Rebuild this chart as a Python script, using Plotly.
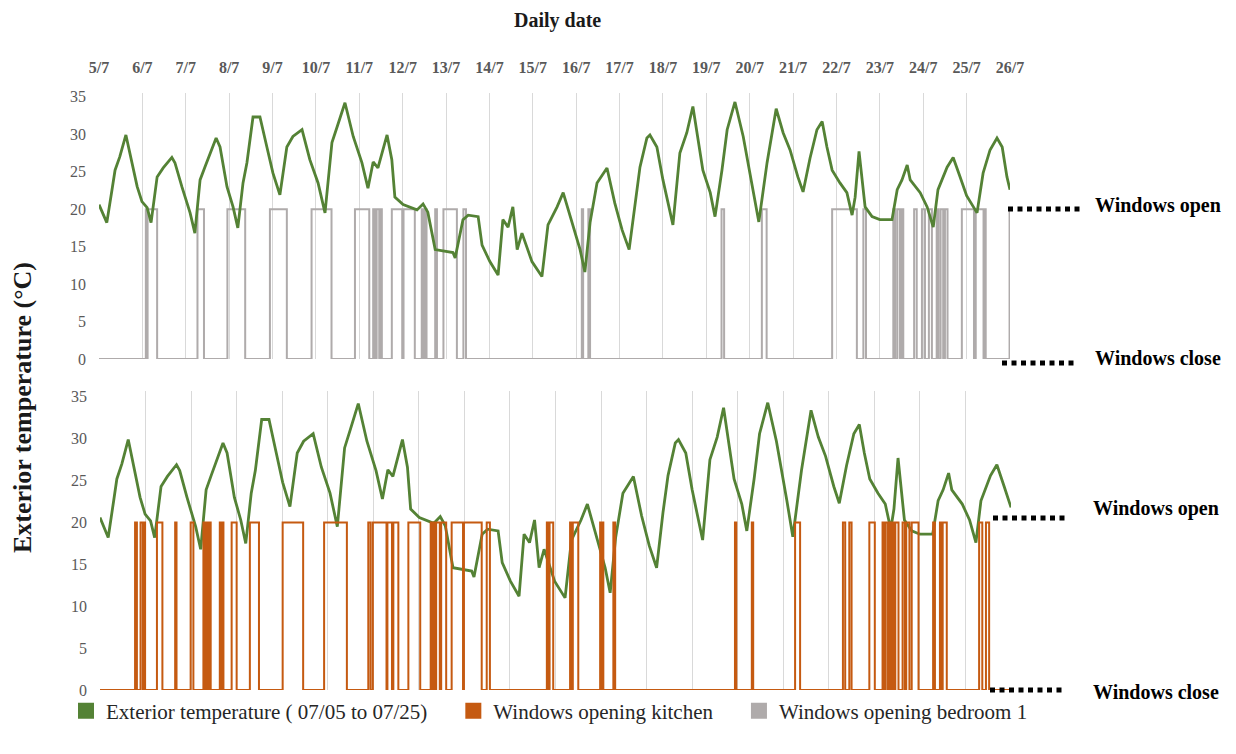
import plotly.graph_objects as go

# ---------------- data ----------------
date_labels = ["5/7", "6/7", "7/7", "8/7", "9/7", "10/7", "11/7", "12/7", "13/7", "14/7", "15/7",
               "16/7", "17/7", "18/7", "19/7", "20/7", "21/7", "22/7", "23/7", "24/7", "25/7", "26/7"]

# time in days since 5/7 00:00
temp_day = [0.00, 0.18, 0.30, 0.37, 0.48, 0.62, 0.88, 0.99, 1.11, 1.20, 1.34, 1.48, 1.68, 1.75, 1.91,
            2.10, 2.21, 2.33, 2.44, 2.56, 2.70, 2.79, 2.95, 3.09, 3.20, 3.32, 3.41, 3.55, 3.71, 3.87,
            4.01, 4.17, 4.33, 4.47, 4.68, 4.86, 5.05, 5.21, 5.37, 5.49, 5.67, 5.86, 6.06, 6.20, 6.32,
            6.43, 6.64, 6.75, 6.82, 7.01, 7.33, 7.47, 7.58, 7.75, 8.16, 8.21, 8.39, 8.51, 8.74, 8.83,
            9.01, 9.20, 9.31, 9.43, 9.54, 9.64, 9.75, 9.98, 10.21, 10.35, 10.56, 10.70, 10.93, 11.09,
            11.20, 11.32, 11.48, 11.71, 11.89, 12.06, 12.22, 12.36, 12.47, 12.63, 12.70, 12.86, 13.00,
            13.23, 13.39, 13.55, 13.69, 13.92, 14.09, 14.20, 14.36, 14.48, 14.66, 14.85, 15.08, 15.21,
            15.40, 15.61, 15.77, 15.93, 16.11, 16.23, 16.39, 16.55, 16.67, 16.78, 16.90, 17.08, 17.24,
            17.36, 17.43, 17.52, 17.66, 17.82, 18.00, 18.28, 18.40, 18.51, 18.63, 18.70, 18.93, 19.09,
            19.23, 19.34, 19.55, 19.69, 19.85, 20.00, 20.24, 20.38, 20.54, 20.70, 20.82, 20.93, 21.00]
temp_c = [20.6, 18.2, 22.6, 25.2, 27.0, 29.9, 23.0, 21.0, 20.2, 18.2, 24.3, 25.5, 26.9, 26.2, 23.0,
          19.5, 16.8, 23.9, 25.6, 27.5, 29.5, 28.3, 23.0, 20.3, 17.5, 23.5, 26.2, 32.3, 32.3, 28.3,
          24.8, 21.9, 28.3, 29.7, 30.6, 26.6, 23.5, 19.5, 28.9, 31.0, 34.2, 29.7, 26.2, 22.8, 26.3,
          25.5, 29.9, 26.6, 21.6, 20.6, 19.9, 20.7, 19.6, 14.6, 14.2, 13.5, 18.6, 19.2, 19.0, 15.2,
          13.0, 11.2, 18.6, 17.6, 20.3, 14.6, 16.8, 13.0, 11.0, 17.9, 20.3, 22.2, 17.6, 14.6,
          11.6, 18.2, 23.5, 25.5, 20.8, 17.2, 14.6, 21.2, 25.6, 29.5, 29.9, 28.3, 23.9,
          17.9, 27.5, 30.2, 33.7, 25.2, 22.2, 19.0, 25.2, 30.6, 34.3, 29.7, 22.6, 18.3,
          26.2, 33.4, 30.2, 27.9, 24.3, 22.3, 26.8, 30.6, 31.7, 28.3, 25.2, 23.5, 22.2,
          19.2, 21.6, 27.7, 20.3, 19.0, 18.6, 18.6, 22.6, 23.9, 25.9, 23.9, 22.2, 20.3,
          17.6, 22.6, 25.6, 26.9, 24.3, 21.8, 19.5, 24.8, 27.9, 29.5, 28.3, 24.3, 22.6]

# window opening periods (days since 5/7), bedroom 1
bedroom_open_start = [1.08, 1.12, 2.27, 2.96, 3.94, 4.90, 5.90, 6.32, 6.40, 6.49, 6.75, 7.02, 7.44,
                      7.52, 7.75, 7.94, 8.40, 11.13, 11.28, 14.35, 15.28, 16.90, 17.62, 18.31,
                      18.40, 18.50, 18.79, 18.97, 19.13, 19.31, 19.40, 19.50, 19.89, 20.21, 20.41,
                      20.99]
bedroom_open_end = [1.10, 1.34, 2.42, 3.37, 4.33, 5.36, 6.23, 6.36, 6.46, 6.52, 6.99, 7.28, 7.48,
                    7.55, 7.79, 8.25, 8.46, 11.16, 11.32, 14.41, 15.39, 17.47, 17.68, 18.35,
                    18.46, 18.54, 18.85, 19.04, 19.20, 19.35, 19.46, 19.56, 20.17, 20.39, 20.44,
                    21.00]

# window opening periods (days since 5/7), kitchen
kitchen_open_start = [0.77, 0.89, 0.95, 1.25, 1.65, 1.99, 2.27, 2.33, 2.39, 2.63, 2.69, 2.89, 3.29,
                      4.01, 4.92, 5.89, 5.99, 6.31, 6.44, 6.77, 7.26, 7.32, 7.38, 7.49, 7.72, 7.99,
                      8.49, 9.81, 9.87, 10.32, 10.38, 10.98, 11.02, 11.27, 13.94, 14.31, 15.26,
                      16.31, 16.45, 16.89, 17.18, 17.25, 17.33, 17.40, 17.46, 17.62, 17.70, 17.82,
                      18.29, 18.44, 18.50, 19.30, 19.45]
kitchen_open_end = [0.81, 0.94, 0.99, 1.37, 1.68, 2.05, 2.31, 2.37, 2.43, 2.65, 2.71, 3.00, 3.49,
                    4.46, 5.42, 5.94, 6.29, 6.41, 6.55, 7.03, 7.30, 7.36, 7.46, 7.60, 7.97, 8.38,
                    8.56, 9.85, 9.95, 10.36, 10.50, 11.01, 11.05, 11.31, 13.97, 14.34, 15.37,
                    16.36, 16.50, 17.01, 17.22, 17.30, 17.37, 17.44, 17.53, 17.67, 17.77, 17.97,
                    18.33, 18.47, 18.59, 19.37, 19.52]

OPEN_LEVEL = 20      # plotted level of an open window
TOP_DAYS = 21        # span of the upper chart (5/7 -> 26/7)
BOTTOM_DAYS = 20     # span of the lower chart (5/7 -> 25/7)
y_ticks = [0, 5, 10, 15, 20, 25, 30, 35]

# ---------------- style ----------------
GREEN = "#548235"
ORANGE = "#C55A11"
GREY = "#AFABAB"
GRID = "#D9D9D9"
TICK = "#595959"
SERIF = "Liberation Serif, Times New Roman, serif"
W, H = 1236, 754
NB = "\u00a0"


def step_series(starts, ends, total):
    xs, ys = [0.0], [0]
    for s, e in zip(starts, ends):
        xs += [s, s, e, e]
        ys += [0, OPEN_LEVEL, OPEN_LEVEL, 0]
    if xs[-1] < total:
        xs.append(total)
        ys.append(0)
    return xs, ys


bx, by = step_series(bedroom_open_start, bedroom_open_end, TOP_DAYS)
kx, ky = step_series(kitchen_open_start, kitchen_open_end, BOTTOM_DAYS)
bt_day = [d for d in temp_day if d <= BOTTOM_DAYS]
bt_c = temp_c[:len(bt_day)]

fig = go.Figure()

# upper chart: bedroom 1
fig.add_trace(go.Scatter(x=bx, y=by, mode="lines", line=dict(color=GREY, width=2),
                         xaxis="x", yaxis="y", showlegend=False, hoverinfo="skip"))
fig.add_trace(go.Scatter(x=temp_day, y=temp_c, mode="lines", line=dict(color=GREEN, width=2.8),
                         xaxis="x", yaxis="y", showlegend=False))
# lower chart: kitchen
fig.add_trace(go.Scatter(x=bt_day, y=bt_c, mode="lines", line=dict(color=GREEN, width=2.8),
                         xaxis="x2", yaxis="y2", showlegend=False))
fig.add_trace(go.Scatter(x=kx, y=ky, mode="lines", line=dict(color=ORANGE, width=2),
                         xaxis="x2", yaxis="y2", showlegend=False, hoverinfo="skip"))

# legend entries (square swatches)
for name, col in [("Exterior temperature ( 07/05 to 07/25)" + NB * 4, GREEN),
                  ("Windows opening kitchen" + NB * 4, ORANGE),
                  ("Windows opening bedroom 1", GREY)]:
    fig.add_trace(go.Scatter(x=[None], y=[None], mode="markers", name=name,
                             marker=dict(symbol="square", size=16, color=col),
                             xaxis="x2", yaxis="y2"))

tickfont = dict(family=SERIF, size=16, color=TICK)

fig.update_layout(
    width=W, height=H,
    margin=dict(l=0, r=0, t=0, b=0, autoexpand=False),
    paper_bgcolor="white", plot_bgcolor="white",
    xaxis=dict(domain=[99 / W, 1010 / W], range=[0, TOP_DAYS], anchor="y", side="top",
               tickmode="array", tickvals=list(range(TOP_DAYS + 1)), ticktext=date_labels,
               tickfont=dict(family=SERIF, size=16, color=TICK, weight="bold"),
               ticklabelstandoff=16, automargin=False,
               showgrid=True, gridcolor=GRID, gridwidth=1, zeroline=False, showline=False,
               ticks=""),
    yaxis=dict(domain=[1 - 359 / H, 1 - 93 / H], range=[0, 35.5], anchor="x",
               tickmode="array", tickvals=y_ticks, tickfont=tickfont, ticklabelstandoff=12,
               automargin=False,
               showgrid=False, zeroline=False, showline=False, ticks=""),
    xaxis2=dict(domain=[100 / W, 1011 / W], range=[0, BOTTOM_DAYS], anchor="y2",
                tickmode="array", tickvals=list(range(BOTTOM_DAYS + 1)), showticklabels=False,
                automargin=False,
                showgrid=True, gridcolor=GRID, gridwidth=1, zeroline=False, showline=False,
                ticks=""),
    yaxis2=dict(domain=[1 - 690 / H, 1 - 391 / H], range=[0, 35.7], anchor="x2",
                tickmode="array", tickvals=y_ticks, tickfont=tickfont, ticklabelstandoff=12,
                automargin=False,
                showgrid=False, zeroline=False, showline=False, ticks=""),
    legend=dict(orientation="h", x=66 / W, xanchor="left", y=1 - 711 / H, yanchor="middle",
                font=dict(family=SERIF, size=21, color="#262626"), bgcolor="rgba(0,0,0,0)",
                itemwidth=30),
    showlegend=True,
)


def px(x, y):
    return x / W, 1 - y / H


annotations = []
# titles
ax, ay = px(557, 20)
annotations.append(dict(text="<b>Daily date</b>", x=ax, y=ay, xref="paper", yref="paper",
                        xanchor="center", yanchor="middle", showarrow=False,
                        font=dict(family=SERIF, size=20, color="#1a1a1a")))
ax, ay = px(22, 408)
annotations.append(dict(text="<b>Exterior temperature (°C)</b>", x=ax, y=ay, xref="paper",
                        yref="paper", xanchor="center", yanchor="middle", showarrow=False,
                        textangle=-90, font=dict(family=SERIF, size=26, color="#1a1a1a")))

# right-hand markers
labels = [("Windows open", 1093, 206, 1008, 1083, 209),
          ("Windows close", 1093, 358, 1002, 1078, 363),
          ("Windows open", 1091, 508, 993, 1068, 518),
          ("Windows close", 1091, 692, 990, 1065, 690)]
shapes = []
for txt, tx, ty, lx0, lx1, ly in labels:
    ax, ay = px(tx, ty)
    annotations.append(dict(text="<b>%s</b>" % txt, x=ax, y=ay, xref="paper", yref="paper",
                            xanchor="left", yanchor="middle", showarrow=False,
                            font=dict(family=SERIF, size=20, color="#000000")))
    x0, y0 = px(lx0, ly)
    x1, _ = px(lx1, ly)
    shapes.append(dict(type="line", xref="paper", yref="paper", x0=x0, x1=x1, y0=y0, y1=y0,
                       line=dict(color="#000000", width=5, dash="5px,4.5px")))

fig.update_layout(annotations=annotations, shapes=shapes)

fig.write_html("out.html", config={"displayModeBar": False},
               post_script="document.body.style.margin='0';")
